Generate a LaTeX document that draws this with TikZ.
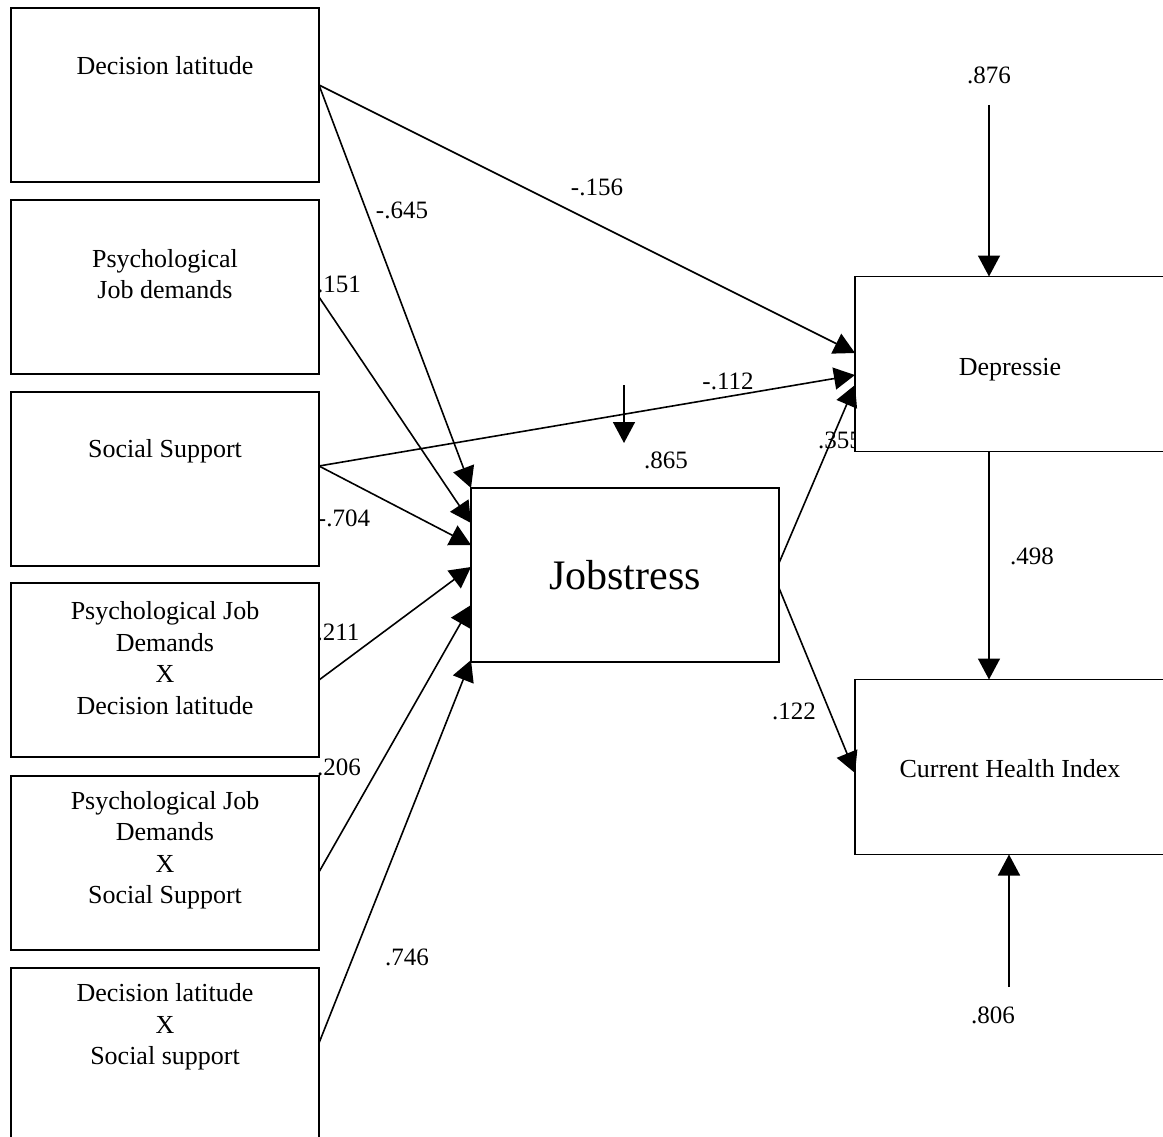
\documentclass[tikz,border=0pt]{standalone}
\usepackage{fontspec}
\setmainfont{Liberation Serif}
\usetikzlibrary{arrows.meta}
\begin{document}
\begin{tikzpicture}[x=1pt,y=-1pt,
  box/.style={draw=black, fill=white, line width=1.6pt, minimum width=308pt,
    minimum height=174pt, inner sep=0pt, outer sep=0pt},
  rbox/.style={box, minimum width=310pt, minimum height=175pt,
    font=\fontsize{26}{31.5}\selectfont, text depth=6pt},
  txt/.style={font=\fontsize{26}{31.5}\selectfont, align=center, inner sep=0pt},
  lab/.style={font=\fontsize{25}{30}\selectfont, inner sep=0pt},
  arr/.style={line width=1.6pt, -{Triangle[length=21pt,width=22pt]}}]
\useasboundingbox (0,0) rectangle (1163,1137);
\clip (0,0) rectangle (1163,1137);

% path coefficients and residuals
\node[lab] (l876) at (989,75) {.876};
\node[lab] (l156) at (597,187) {-.156};
\node[lab] (l645) at (402,210) {-.645};
\node[lab] (l151) at (339,284) {.151};
\node[lab] (l112) at (728,381) {-.112};
\node[lab] (l865) at (666,460) {.865};
\node[lab] (l355) at (840,440) {.355};
\node[lab] (l704) at (344,518) {-.704};
\node[lab] (l498) at (1032,556) {.498};
\node[lab] (l211) at (338,632) {.211};
\node[lab] (l122) at (794,711) {.122};
\node[lab] (l206) at (339,767) {.206};
\node[lab] (l746) at (407,957) {.746};
\node[lab] (l806) at (993,1015) {.806};

% predictor boxes
\node[box] (dl)  at (165,95)   {};
\node[box] (pjd) at (165,287)  {};
\node[box] (ss)  at (165,479)  {};
\node[box] (pxd) at (165,670)  {};
\node[box] (pxs) at (165,863)  {};
\node[box] (dxs) at (165,1055) {};
\node[txt] (tdl)  at (165,66)   {Decision latitude};
\node[txt] (tpjd) at (165,274)  {Psychological\\Job demands};
\node[txt] (tss)  at (165,451)  {Social Support};
\node[txt] (tpxd) at (165,658)  {Psychological Job\\Demands\\X\\Decision latitude};
\node[txt] (tpxs) at (165,850)  {Psychological Job\\Demands\\X\\Social Support};
\node[txt] (tdxs) at (165,1027) {Decision latitude\\X\\Social support};

% mediator and outcomes
\node[box, font=\fontsize{42}{48}\selectfont] (js) at (625,575) {Jobstress};
\node[rbox, text height=29pt] (dep) at (1010,364) {Depressie};
\node[rbox, text height=27pt] (chi) at (1010,767) {Current Health Index};

% paths
\draw[arr] ([yshift=10pt]dl.east) -- ([yshift=11pt]dep.west);
\draw[arr] ([yshift=10pt]dl.east) -- (js.north west);
\draw[arr] ([yshift=-10pt]pjd.east) -- ([yshift=52pt]js.west);
\draw[arr] ([yshift=13pt]ss.east) -- ([yshift=-11pt]dep.west);
\draw[arr] ([yshift=13pt]ss.east) -- ([yshift=30pt]js.west);
\draw[arr] ([yshift=-10pt]pxd.east) -- ([yshift=8pt]js.west);
\draw[arr] ([yshift=-9pt]pxs.east) -- ([yshift=-30pt]js.west);
\draw[arr] ([yshift=12pt]dxs.east) -- ([yshift=-85pt]js.west);
\draw[arr] ([yshift=12pt]js.east) -- ([yshift=-21pt]dep.west);
\draw[arr] ([yshift=-13pt]js.east) -- ([yshift=-6pt]chi.west);
\draw[arr] ([xshift=-21pt]dep.south) -- ([xshift=-21pt]chi.north);

% residual arrows
\coordinate (e1) at (989,105);
\draw[arr] (e1) -- ([xshift=-21pt]dep.north);
\coordinate (e2s) at (624,385);
\coordinate (e2t) at (624,443);
\draw[arr] (e2s) -- (e2t);
\coordinate (e3) at (1009,987);
\draw[arr] (e3) -- ([xshift=-1pt]chi.south);
\end{tikzpicture}
\end{document}
